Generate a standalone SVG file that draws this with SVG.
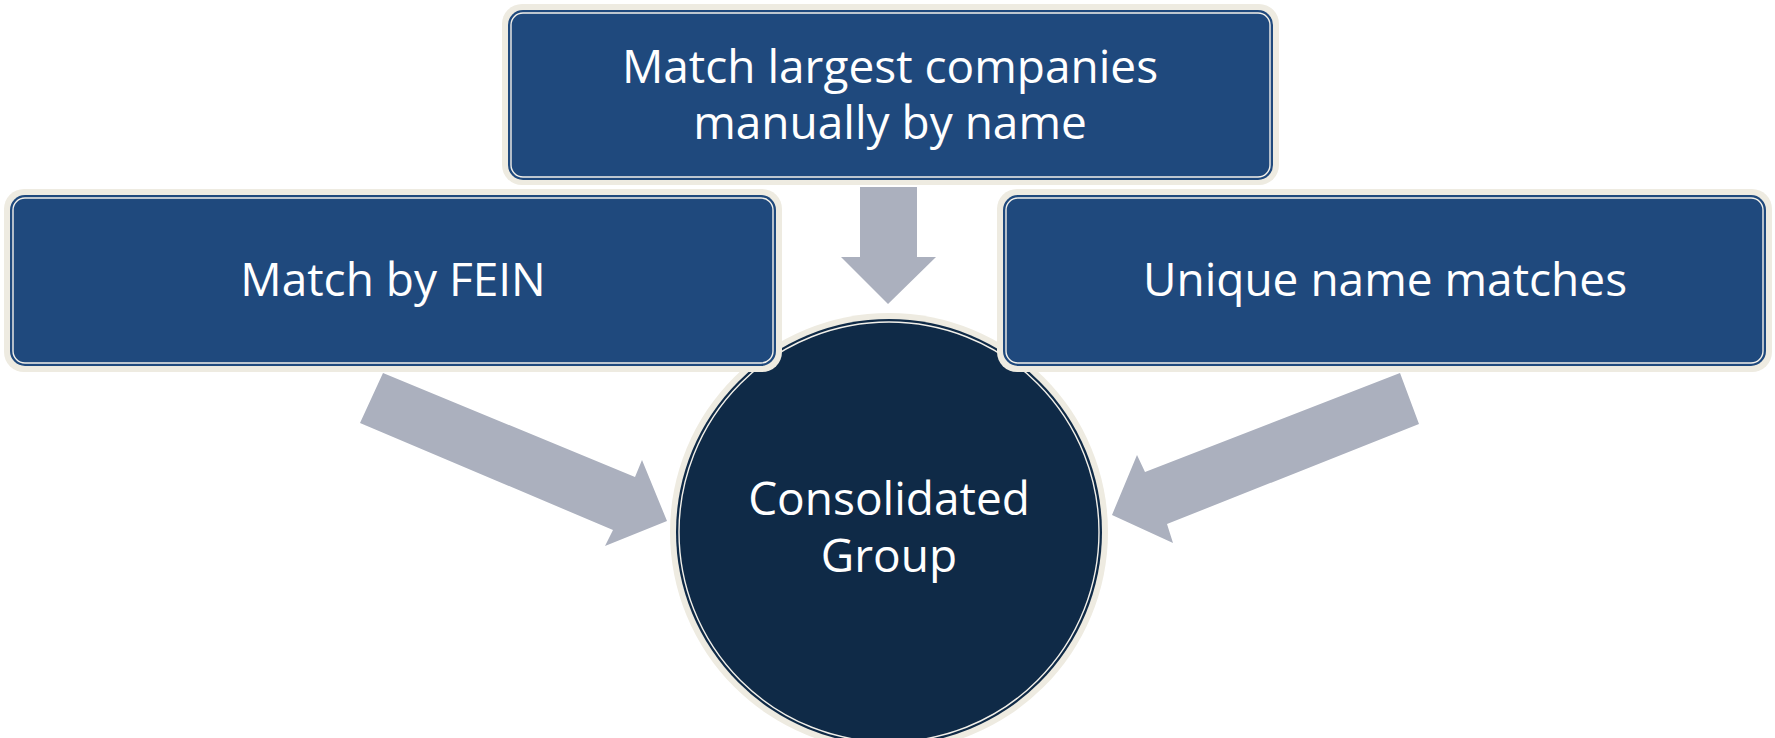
<svg xmlns="http://www.w3.org/2000/svg" width="1775" height="738" viewBox="0 0 1775 738">
<style>
.halo{fill:#EEEBE1}
.box{fill:#1F497D}
.circ{fill:#0F2A47}
.inner{fill:none;stroke:#F2F0EA;stroke-width:1.4}
.arrow{fill:#ABB0BE}
.lbl{font-family:"Open Sans","Noto Sans",sans-serif;font-size:46px;fill:#FFFFFF;text-anchor:middle}
</style>
<rect width="1775" height="738" fill="#FFFFFF"/>
<g id="node-consolidated">
<circle class="halo" cx="889" cy="532" r="219"/>
<circle class="circ" cx="889" cy="532" r="213"/>
<circle class="inner" cx="889" cy="532" r="210"/>
<text class="lbl" x="889" y="515">Consolidated</text>
<text class="lbl" x="889" y="572">Group</text>
</g>
<g id="node-top">
<rect class="halo" x="502" y="4" width="777" height="181" rx="20"/>
<rect class="box" x="508" y="10" width="765" height="170" rx="15"/>
<rect class="inner" x="511" y="13" width="759" height="164" rx="12"/>
<text class="lbl" x="890" y="83">Match largest companies</text>
<text class="lbl" x="890" y="139">manually by name</text>
</g>
<g id="node-fein">
<rect class="halo" x="4" y="189" width="778" height="183" rx="20"/>
<rect class="box" x="10" y="195" width="766" height="171" rx="15"/>
<rect class="inner" x="13" y="198" width="760" height="165" rx="12"/>
<text class="lbl" x="393" y="296">Match by FEIN</text>
</g>
<g id="node-unique">
<rect class="halo" x="997" y="189" width="775" height="183" rx="20"/>
<rect class="box" x="1003" y="195" width="763" height="171" rx="15"/>
<rect class="inner" x="1006" y="198" width="757" height="165" rx="12"/>
<text class="lbl" x="1385" y="296">Unique name matches</text>
</g>
<g id="connectors">
<polygon class="arrow" points="860,187 917,187 917,257 936,257 888,304 841,257 860,257"/>
<polygon class="arrow" points="383,373 635,477 642,460 667,521 605,546 613,530 360,423"/>
<polygon class="arrow" points="1400,373 1419,424 1167,524 1173,543 1112,515 1137,455 1145,472"/>
</g>
</svg>
